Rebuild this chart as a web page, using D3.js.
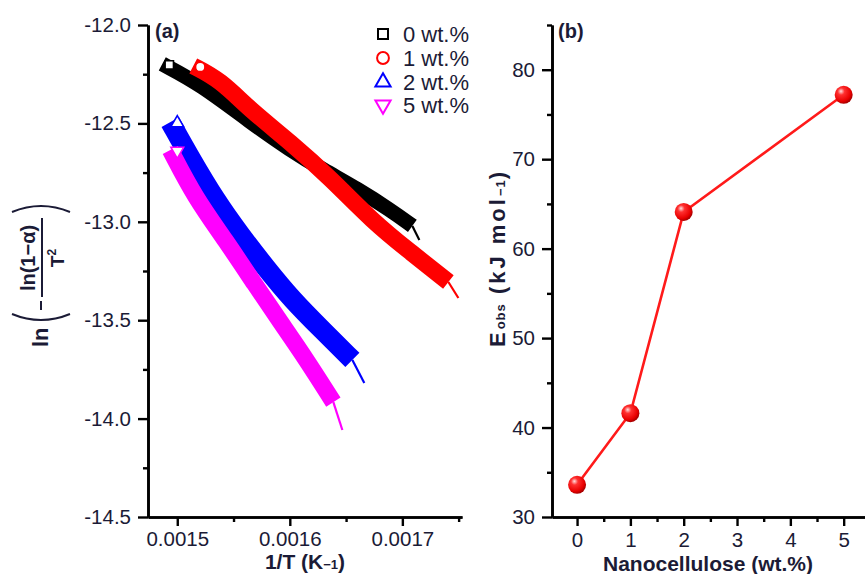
<!DOCTYPE html>
<html>
<head>
<meta charset="utf-8">
<script src="https://cdn.jsdelivr.net/npm/d3@7"></script>
<style>
  body { margin: 0; background: #fff; }
  svg { display: block; }
</style>
</head>
<body>
<svg id="chart" width="865" height="574"></svg>
<script>
const FONT = '"Liberation Sans", Arial, sans-serif'
const TEXT = '#1b1b36'

// panel (a): ln(-ln(1-a)/T^2) vs 1/T, four loadings
const seriesNames = ['0 wt.%', '1 wt.%', '2 wt.%', '5 wt.%']
const seriesColors = ['#000000', '#ff0000', '#0000ff', '#ff00ff']
const seriesSymbols = [d3.symbolSquare, d3.symbolCircle, d3.symbolTriangle, d3.symbolTriangle]

const x0wt = [0.0014867, 0.0015204, 0.0015649, 0.0016004, 0.0016298, 0.0016600, 0.0016893, 0.0017089, 0.0017151]
const y0wt = [-12.198, -12.300, -12.493, -12.635, -12.737, -12.833, -12.940, -13.021, -13.092]
const x1wt = [0.0015142, 0.0015382, 0.0015649, 0.0016004, 0.0016360, 0.0016742, 0.0017071, 0.0017409, 0.0017498]
const y1wt = [-12.208, -12.279, -12.432, -12.595, -12.777, -13.001, -13.153, -13.306, -13.387]
const x2wt = [0.0014938, 0.0015116, 0.0015338, 0.0015560, 0.0015782, 0.0016022, 0.0016289, 0.0016556, 0.0016662]
const y2wt = [-12.493, -12.676, -12.889, -13.067, -13.230, -13.397, -13.550, -13.702, -13.819]
const x5wt = [0.0014938, 0.0015160, 0.0015427, 0.0015693, 0.0015916, 0.0016138, 0.0016387, 0.0016467]
const y5wt = [-12.635, -12.879, -13.092, -13.321, -13.509, -13.692, -13.916, -14.058]

const xTicksA = [0.0015, 0.0016, 0.0017]
const xMinorA = [0.00155, 0.00165, 0.00175]
const yTicksA = [-12.0, -12.5, -13.0, -13.5, -14.0, -14.5]
const yMinorA = [-12.25, -12.75, -13.25, -13.75, -14.25]

// panel (b): activation energy vs nanocellulose content
const loading = [0, 1, 2, 5]
const eObs = [33.6, 41.6, 64.1, 77.2]
const xTicksB = [0, 1, 2, 3, 4, 5]
const xMinorB = [0.5, 1.5, 2.5, 3.5, 4.5]
const yTicksB = [30, 40, 50, 60, 70, 80]
const yMinorB = [35, 45, 55, 65, 75, 85]

const svg = d3.select('#chart')
svg.style('font-family', FONT)

const defs = svg.append('defs')
const grad = defs.append('radialGradient').attr('id', 'ball')
  .attr('cx', '38%').attr('cy', '35%').attr('r', '65%').attr('fx', '35%').attr('fy', '30%')
grad.append('stop').attr('offset', '0%').attr('stop-color', '#ffe0e0')
grad.append('stop').attr('offset', '30%').attr('stop-color', '#ff3030')
grad.append('stop').attr('offset', '80%').attr('stop-color', '#e80000')
grad.append('stop').attr('offset', '100%').attr('stop-color', '#a80000')

function styleAxis (g) {
  g.selectAll('path.domain').attr('stroke', '#000').attr('stroke-width', 2.6)
  g.selectAll('.tick line').attr('stroke', '#000').attr('stroke-width', 2.4)
  g.selectAll('.tick text').attr('fill', TEXT).style('font-size', '20.5px').style('font-family', FONT)
}

// ---------- panel (a) ----------
const xA = d3.scaleLinear().domain([0.001474, 0.001753]).range([148, 462])
const yA = d3.scaleLinear().domain([-14.5, -12.0]).range([517, 25])

const seriesA = [[x0wt, y0wt], [x1wt, y1wt], [x2wt, y2wt], [x5wt, y5wt]]
const bandWidth = [15, 17, 20, 17]

const smooth = d3.line().x(d => xA(d[0])).y(d => yA(d[1])).curve(d3.curveBasis)
const straight = d3.line().x(d => xA(d[0])).y(d => yA(d[1]))

seriesA.forEach(([xs, ys], i) => {
  const pts = xs.map((v, k) => [v, ys[k]])
  const body = pts.slice(0, -1)
  const tail = pts.slice(-2)
  svg.append('path')
    .attr('d', smooth(body))
    .attr('fill', 'none')
    .attr('stroke', seriesColors[i])
    .attr('stroke-width', bandWidth[i])
    .attr('stroke-linejoin', 'round')
    .attr('stroke-linecap', 'butt')
  svg.append('path')
    .attr('d', straight(tail))
    .attr('fill', 'none')
    .attr('stroke', seriesColors[i])
    .attr('stroke-width', 2.2)
  // first open marker sitting at the start of each band
  const sym = d3.symbol().type(seriesSymbols[i]).size(70)
  svg.append('path')
    .attr('d', sym())
    .attr('transform', `translate(${xA(pts[0][0]) + 7},${yA(pts[0][1]) + 1}) rotate(${i === 3 ? 180 : 0})`)
    .attr('fill', '#fff')
    .attr('stroke', seriesColors[i])
    .attr('stroke-width', 1.6)
})

const axA = svg.append('g').attr('transform', 'translate(148,0)')
  .call(d3.axisLeft(yA).tickValues(yTicksA).tickFormat(d => d3.format('.1f')(d).replace('−', '-')).tickSize(10).tickPadding(7).tickSizeOuter(0))
styleAxis(axA)
const axAm = svg.append('g').attr('transform', 'translate(148,0)')
  .call(d3.axisLeft(yA).tickValues(yMinorA).tickFormat('').tickSize(5).tickSizeOuter(0))
styleAxis(axAm)

const bxA = svg.append('g').attr('transform', 'translate(0,517)')
  .call(d3.axisBottom(xA).tickValues(xTicksA).tickFormat(d3.format('.4f')).tickSize(9).tickPadding(5).tickSizeOuter(0))
styleAxis(bxA)
const bxAm = svg.append('g').attr('transform', 'translate(0,517)')
  .call(d3.axisBottom(xA).tickValues(xMinorA).tickFormat('').tickSize(5).tickSizeOuter(0))
styleAxis(bxAm)

svg.append('text').attr('x', 155).attr('y', 38).attr('fill', TEXT)
  .style('font-size', '20px').style('font-weight', 'bold').text('(a)')

// x title (a)
const xtA = svg.append('text').attr('x', 305).attr('y', 569).attr('text-anchor', 'middle')
  .attr('fill', TEXT).style('font-size', '21px').style('font-weight', 'bold')
xtA.append('tspan').text('1/T (K')
xtA.append('tspan').style('font-size', '13px').text('−1')
xtA.append('tspan').text(')')

// y title (a): ln( -ln(1-a) / T^2 )
const lab = svg.append('g').attr('transform', 'translate(42,270) rotate(-90)')
  .attr('fill', TEXT).style('font-weight', 'bold')
lab.append('text').attr('x', -77).attr('y', 6).style('font-size', '22px').text('ln')
lab.append('path').attr('d', 'M -44,-30 Q -56,-1 -44,28').attr('fill', 'none').attr('stroke', TEXT).attr('stroke-width', 2)
lab.append('line').attr('x1', -40).attr('x2', -31).attr('y1', -1).attr('y2', -1).attr('stroke', TEXT).attr('stroke-width', 2)
lab.append('line').attr('x1', -27).attr('x2', 52).attr('y1', 0).attr('y2', 0).attr('stroke', TEXT).attr('stroke-width', 2)
lab.append('text').attr('x', 12).attr('y', -7).attr('text-anchor', 'middle').style('font-size', '20px').text('ln(1−α)')
const den = lab.append('text').attr('x', 12).attr('y', 22).attr('text-anchor', 'middle').style('font-size', '19px')
den.append('tspan').text('T')
den.append('tspan').attr('dy', -8).style('font-size', '12px').text('2')
lab.append('path').attr('d', 'M 58,-30 Q 70,-1 58,28').attr('fill', 'none').attr('stroke', TEXT).attr('stroke-width', 2)

// legend
const legY = [34, 58, 82, 105]
seriesNames.forEach((name, i) => {
  const sym = d3.symbol().type(seriesSymbols[i]).size(i === 1 ? 110 : 100)
  svg.append('path')
    .attr('d', sym())
    .attr('transform', `translate(383,${legY[i]}) rotate(${i === 3 ? 180 : 0})`)
    .attr('fill', 'none')
    .attr('stroke', seriesColors[i])
    .attr('stroke-width', 2)
  svg.append('text').attr('x', 403).attr('y', legY[i] + 8).attr('fill', TEXT)
    .style('font-size', '22px').text(name)
})

// ---------- panel (b) ----------
const xB = d3.scaleLinear().domain([-0.47, 5.4]).range([552, 865])
const yB = d3.scaleLinear().domain([30, 85]).range([517, 25])

const axB = svg.append('g').attr('transform', 'translate(552,0)')
  .call(d3.axisLeft(yB).tickValues(yTicksB).tickFormat(d3.format('d')).tickSize(10).tickPadding(7).tickSizeOuter(0))
styleAxis(axB)
const axBm = svg.append('g').attr('transform', 'translate(552,0)')
  .call(d3.axisLeft(yB).tickValues(yMinorB).tickFormat('').tickSize(5).tickSizeOuter(0))
styleAxis(axBm)
const bxB = svg.append('g').attr('transform', 'translate(0,517)')
  .call(d3.axisBottom(xB).tickValues(xTicksB).tickFormat(d3.format('d')).tickSize(9).tickPadding(6).tickSizeOuter(0))
styleAxis(bxB)
const bxBm = svg.append('g').attr('transform', 'translate(0,517)')
  .call(d3.axisBottom(xB).tickValues(xMinorB).tickFormat('').tickSize(5).tickSizeOuter(0))
styleAxis(bxBm)

const ptsB = loading.map((v, k) => [v, eObs[k]])
svg.append('path')
  .attr('d', d3.line().x(d => xB(d[0])).y(d => yB(d[1]))(ptsB))
  .attr('fill', 'none').attr('stroke', '#ff1a1a').attr('stroke-width', 2.6)
svg.selectAll('circle.ball').data(ptsB).enter().append('circle')
  .attr('class', 'ball')
  .attr('cx', d => xB(d[0])).attr('cy', d => yB(d[1])).attr('r', 9)
  .attr('fill', 'url(#ball)')

svg.append('text').attr('x', 558).attr('y', 38).attr('fill', TEXT)
  .style('font-size', '20px').style('font-weight', 'bold').text('(b)')

svg.append('text').attr('x', 708).attr('y', 571).attr('text-anchor', 'middle').attr('fill', TEXT)
  .style('font-size', '21px').style('font-weight', 'bold').text('Nanocellulose (wt.%)')

const ytB = svg.append('text').attr('transform', 'translate(505,258) rotate(-90)')
  .attr('text-anchor', 'middle').attr('fill', TEXT)
  .style('font-size', '22px').style('font-weight', 'bold').style('letter-spacing', '3px')
ytB.append('tspan').text('E')
ytB.append('tspan').style('font-size', '13px').style('letter-spacing', '1px').text('obs')
ytB.append('tspan').text(' (kJ mol')
ytB.append('tspan').style('font-size', '13px').style('letter-spacing', '1px').text('−1')
ytB.append('tspan').text(')')
</script>
</body>
</html>
